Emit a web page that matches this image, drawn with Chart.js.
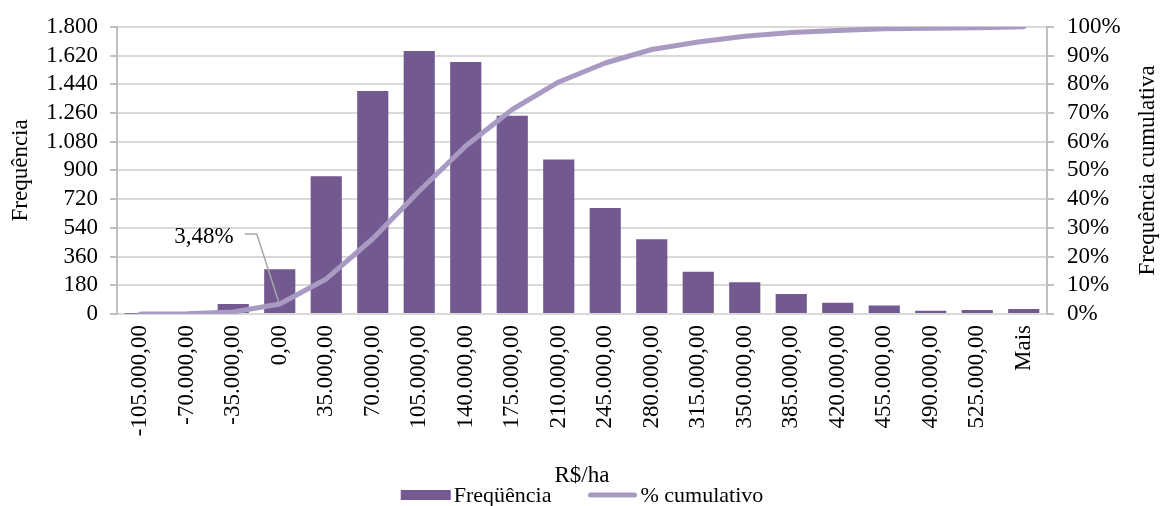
<!DOCTYPE html>
<html lang="pt-BR">
<head>
<meta charset="utf-8">
<title>Distribuição de frequência – R$/ha</title>
<script src="https://cdn.jsdelivr.net/npm/chart.js@4.4.1/dist/chart.umd.min.js"></script>
<style>
  html, body { margin: 0; padding: 0; background: #ffffff; }
  canvas { display: block; }
</style>
</head>
<body>
<canvas id="grafico" width="1165" height="506"></canvas>
<script>
// Classes de resultado (R$/ha)
const categories = ['-105.000,00', '-70.000,00', '-35.000,00', '0,00', '35.000,00', '70.000,00',
  '105.000,00', '140.000,00', '175.000,00', '210.000,00', '245.000,00', '280.000,00',
  '315.000,00', '350.000,00', '385.000,00', '420.000,00', '455.000,00', '490.000,00',
  '525.000,00', 'Mais'];

// Frequência absoluta de cada classe
const frequencia = [1, 4, 62, 281, 863, 1397, 1649, 1579, 1243, 968, 664, 468,
  265, 199, 126, 70, 54, 20, 25, 31];

// Frequência cumulativa (%)
const cumulativo = [0.01, 0.05, 0.7, 3.48, 12.2, 26.2, 42.8, 58.5, 71.2, 80.8, 87.4, 92.1,
  94.7, 96.7, 98.0, 98.7, 99.3, 99.5, 99.7, 100];

// Rótulos dos eixos
const yTickLabels = ['0', '180', '360', '540', '720', '900', '1.080', '1.260', '1.440', '1.620', '1.800'];
const pctTickLabels = ['0%', '10%', '20%', '30%', '40%', '50%', '60%', '70%', '80%', '90%', '100%'];

// Ponto da curva cumulativa destacado com rótulo
const labelIndex = 3;

const serif = "'Liberation Serif', 'Times New Roman', 'DejaVu Serif', serif";
const fontSize = 23;
const barColor = '#72598f';
const lineColor = '#a89ac3';
const axisColor = '#bfbfbf';
const gridColor = '#d9d9d9';

// Rótulo "3,48%" com linha de chamada
const cumLabelPlugin = {
  id: 'cumLabel',
  afterDatasetsDraw(chart) {
    const pt = chart.getDatasetMeta(1).data[labelIndex];
    if (!pt) return;
    const { x, y } = pt;
    const ctx = chart.ctx;
    ctx.save();
    ctx.strokeStyle = '#a6a6a6';
    ctx.lineWidth = 1.5;
    ctx.beginPath();
    ctx.moveTo(x - 1, y - 2);
    ctx.lineTo(x - 23, y - 70);
    ctx.lineTo(x - 35, y - 70);
    ctx.stroke();
    ctx.fillStyle = '#000000';
    ctx.font = fontSize + 'px ' + serif;
    ctx.textAlign = 'right';
    ctx.textBaseline = 'middle';
    ctx.fillText(cumulativo[labelIndex].toFixed(2).replace('.', ',') + '%', x - 46, y - 67);
    ctx.restore();
  }
};

// Título do eixo secundário (lido de baixo para cima) e legenda inferior
const extrasPlugin = {
  id: 'extras',
  afterDraw(chart) {
    const ctx = chart.ctx;
    const area = chart.chartArea;
    const y1 = chart.scales.y1;
    ctx.save();
    ctx.fillStyle = '#000000';
    ctx.font = fontSize + 'px ' + serif;
    ctx.textAlign = 'center';
    ctx.textBaseline = 'middle';
    ctx.translate(y1.right - 17, (area.top + area.bottom) / 2);
    ctx.rotate(-Math.PI / 2);
    ctx.fillText('Frequência cumulativa', 0, 0);
    ctx.restore();

    // Legenda
    ctx.save();
    ctx.font = '22px ' + serif;
    ctx.textBaseline = 'middle';
    ctx.textAlign = 'left';
    const items = [
      { text: 'Freqüência', type: 'bar' },
      { text: '% cumulativo', type: 'line' }
    ];
    const sw = 50, gap = 3, spacing = 36;
    const widths = items.map(it => sw + gap + ctx.measureText(it.text).width);
    const total = widths.reduce((a, b) => a + b, 0) + spacing * (items.length - 1);
    let lx = (area.left + area.right) / 2 - total / 2;
    const ly = chart.height - 11;
    items.forEach((it, i) => {
      if (it.type === 'bar') {
        ctx.fillStyle = barColor;
        ctx.fillRect(lx, ly - 5, sw, 10);
      } else {
        ctx.strokeStyle = lineColor;
        ctx.lineWidth = 5;
        ctx.lineCap = 'round';
        ctx.beginPath();
        ctx.moveTo(lx + 3, ly);
        ctx.lineTo(lx + sw - 3, ly);
        ctx.stroke();
      }
      ctx.fillStyle = '#000000';
      ctx.fillText(it.text, lx + sw + gap, ly + 1);
      lx += widths[i] + spacing;
    });
    ctx.restore();
  }
};

new Chart(document.getElementById('grafico'), {
  data: {
    labels: categories,
    datasets: [
      {
        type: 'bar',
        label: 'Freqüência',
        data: frequencia,
        backgroundColor: barColor,
        borderWidth: 0,
        yAxisID: 'y',
        categoryPercentage: 1,
        barPercentage: 0.67,
        order: 2
      },
      {
        type: 'line',
        label: '% cumulativo',
        data: cumulativo,
        borderColor: lineColor,
        backgroundColor: lineColor,
        borderWidth: 5,
        borderCapStyle: 'round',
        borderJoinStyle: 'round',
        pointRadius: 0,
        tension: 0,
        yAxisID: 'y1',
        order: 1
      }
    ]
  },
  options: {
    responsive: false,
    devicePixelRatio: 1,
    animation: false,
    layout: { padding: { top: 24, left: 0, right: 0, bottom: 16 } },
    plugins: {
      legend: { display: false },
      tooltip: { enabled: false }
    },
    scales: {
      x: {
        grid: { display: false, drawTicks: false },
        border: { display: true, color: gridColor, width: 2 },
        ticks: {
          font: { family: serif, size: fontSize },
          color: '#000000',
          minRotation: 90,
          maxRotation: 90,
          autoSkip: false,
          padding: 11
        },
        title: {
          display: true,
          text: 'R$/ha',
          font: { family: serif, size: fontSize },
          color: '#000000',
          padding: { top: 0, bottom: 0 }
        },
        afterFit(scale) { scale.height = 176; }
      },
      y: {
        position: 'left',
        min: 0,
        max: 1800,
        ticks: {
          stepSize: 180,
          autoSkip: false,
          font: { family: serif, size: fontSize },
          color: '#000000',
          padding: 12,
          callback: (value, index) => yTickLabels[index]
        },
        grid: { color: gridColor, lineWidth: 2, tickColor: axisColor, tickLength: 7 },
        border: { display: true, color: axisColor, width: 2 },
        title: {
          display: true,
          text: 'Frequência',
          font: { family: serif, size: fontSize },
          color: '#000000',
          padding: { top: 7, bottom: 0 }
        },
        afterFit(scale) { scale.width = 117; }
      },
      y1: {
        position: 'right',
        min: 0,
        max: 100,
        ticks: {
          stepSize: 10,
          autoSkip: false,
          font: { family: serif, size: fontSize },
          color: '#000000',
          padding: 13,
          callback: (value, index) => pctTickLabels[index]
        },
        grid: { drawOnChartArea: false, color: axisColor, tickColor: axisColor, lineWidth: 2, tickLength: 7 },
        border: { display: true, color: axisColor, width: 2 },
        afterFit(scale) { scale.width = 118; }
      }
    }
  },
  plugins: [cumLabelPlugin, extrasPlugin]
});
</script>
</body>
</html>
